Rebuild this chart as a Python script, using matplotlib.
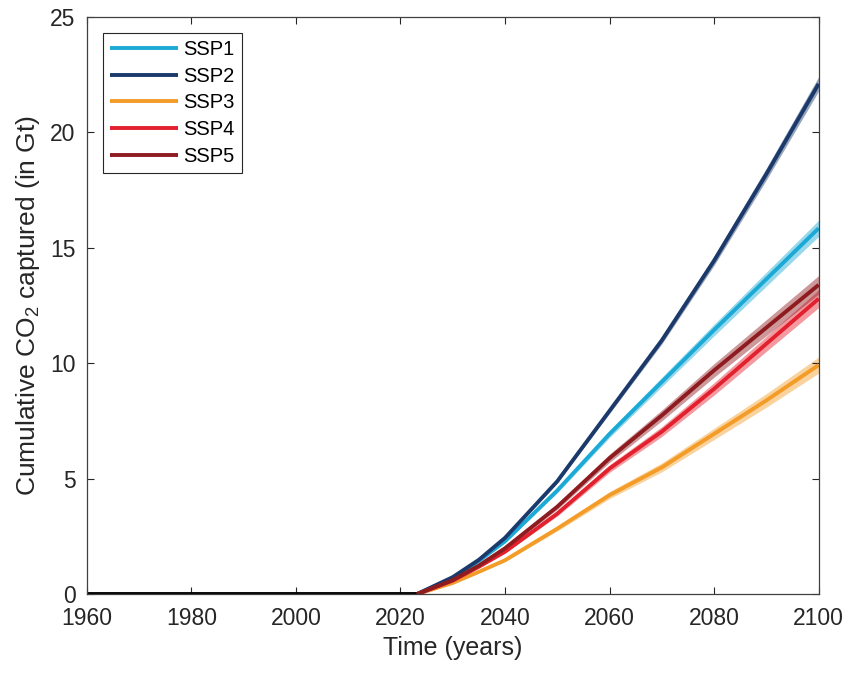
import matplotlib
matplotlib.use("Agg")
import matplotlib.pyplot as plt
import numpy as np

# Datos
anios_hist = [1960, 2023]
valor_hist = [0, 0]

anios = [2023, 2030, 2035, 2040, 2050, 2060, 2070, 2080, 2090, 2100]
ssp1 = [0, 0.70, 1.45, 2.30, 4.50, 6.95, 9.20, 11.45, 13.65, 15.85]
ssp2 = [0, 0.75, 1.50, 2.45, 4.90, 7.95, 11.00, 14.45, 18.20, 22.10]
ssp3 = [0, 0.50, 0.98, 1.48, 2.85, 4.30, 5.50, 6.95, 8.40, 9.93]
ssp4 = [0, 0.60, 1.20, 1.85, 3.50, 5.45, 7.05, 8.90, 10.85, 12.80]
ssp5 = [0, 0.62, 1.25, 2.00, 3.80, 5.90, 7.75, 9.70, 11.55, 13.40]

nombres = ['SSP1', 'SSP2', 'SSP3', 'SSP4', 'SSP5']
series = [ssp1, ssp2, ssp3, ssp4, ssp5]
# incertidumbre relativa de cada banda
incertidumbre = [0.022, 0.014, 0.035, 0.03, 0.03]
colores = ['#1ba9d6', '#1b3a6b', '#f39c27', '#e3202e', '#8e1b1f']

plt.rcParams['font.family'] = ['Liberation Sans', 'DejaVu Sans']
plt.rcParams['mathtext.default'] = 'regular'

fig = plt.figure(figsize=(8.51, 6.74), dpi=100)
ax = fig.add_axes([0.102, 0.118, 0.86, 0.857])

x = np.array(anios)
for nombre, y, u, c in zip(nombres, series, incertidumbre, colores):
    y = np.array(y)
    ax.fill_between(x, y * (1 - u), y * (1 + u), color=c, alpha=0.45, lw=0)
    ax.plot(x, y, color=c, lw=2.8, label=nombre, solid_capstyle='butt')

ax.plot(anios_hist, valor_hist, color='black', lw=3.5, solid_capstyle='butt')

ax.set_xlim(1960, 2100)
ax.set_ylim(0, 25)
ax.set_xticks(range(1960, 2101, 20))
ax.set_yticks(range(0, 26, 5))
ax.tick_params(direction='in', top=True, right=True, length=5, width=0.8,
               labelsize=16.5, colors='#262626')
ax.tick_params(axis='x', pad=9)
ax.tick_params(axis='y', pad=8)
for s in ax.spines.values():
    s.set_color('#404040')
    s.set_linewidth(0.9)

ax.set_xlabel('Time (years)', fontsize=18, color='#262626', labelpad=4)
ax.set_ylabel('Cumulative CO$_2$ captured (in Gt)', fontsize=19, color='#262626', labelpad=6)

leg = ax.legend(loc='upper left', fontsize=14.5, handlelength=3.4, handletextpad=0.25,
                fancybox=False, edgecolor='#262626', framealpha=1, borderpad=0.35,
                labelspacing=0.38, borderaxespad=0, bbox_to_anchor=(0.022, 0.972))
leg.get_frame().set_linewidth(0.8)

fig.savefig('out.png', dpi=100)
